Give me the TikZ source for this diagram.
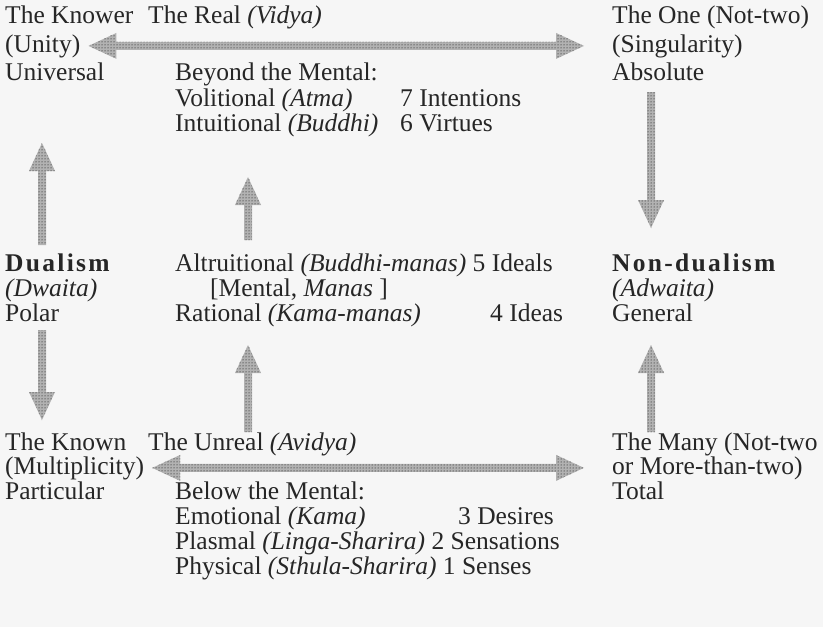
\documentclass[tikz,border=0pt]{standalone}
\usepackage{fontspec}
\setmainfont{Liberation Serif}
\newfontfamily\spacedbf[LetterSpace=9]{Liberation Serif Bold}
\usetikzlibrary{calc,patterns}

\newcommand{\arrhead}{28pt}
\newcommand{\arrwide}{13pt}
\newcommand{\arrshaft}{4pt}

% one-way stippled arrow, #1 tail, #2 tip
\newcommand{\stiparrow}[2]{%
  \coordinate (neck) at ($(#2)!\arrhead!(#1)$);
  \fill[stipple] ($(#1)!\arrshaft!90:(#2)$) -- ($(neck)!\arrshaft!90:(#2)$)
    -- ($(neck)!\arrwide!90:(#2)$) -- (#2) -- ($(neck)!\arrwide!-90:(#2)$)
    -- ($(neck)!\arrshaft!-90:(#2)$) -- ($(#1)!\arrshaft!-90:(#2)$) -- cycle;}
% two-way stippled arrow
\newcommand{\stipboth}[2]{%
  \coordinate (neckA) at ($(#1)!\arrhead!(#2)$);
  \coordinate (neckB) at ($(#2)!\arrhead!(#1)$);
  \fill[stipple] (#1) -- ($(neckA)!\arrwide!90:(#2)$) -- ($(neckA)!\arrshaft!90:(#2)$)
    -- ($(neckB)!\arrshaft!-90:(#1)$) -- ($(neckB)!\arrwide!-90:(#1)$) -- (#2)
    -- ($(neckB)!\arrwide!90:(#1)$) -- ($(neckB)!\arrshaft!90:(#1)$)
    -- ($(neckA)!\arrshaft!-90:(#2)$) -- ($(neckA)!\arrwide!-90:(#2)$) -- cycle;}

\tikzset{
  txt/.style={anchor=base west, inner sep=0pt, text=black!85, font=\fontsize{25.5}{26}\selectfont},
  bold/.style={txt, font=\fontsize{25.5}{26}\selectfont\spacedbf},
  stipple/.style={pattern=dots, pattern color=black, preaction={fill=gray!60}}
}

\begin{document}
\begin{tikzpicture}[x=1pt,y=-1pt]
\fill[gray!7] (0,0) rectangle (823,627);
\useasboundingbox (0,0) rectangle (823,627);

% the real
\node[txt] (knower) at (5,23) {The Knower};
\node[txt] (real) at (148,23) {The Real \textit{(Vidya)}};
\node[txt] (one) at (612,23) {The One (Not-two)};
\node[txt] (unity) at (5,52) {(Unity)};
\node[txt] (singularity) at (612,52) {(Singularity)};
\node[txt] (universal) at (5,80) {Universal};
\node[txt] (beyond) at (175,80) {Beyond the Mental:};
\node[txt] (absolute) at (612,80) {Absolute};
\node[txt] (volitional) at (175,106) {Volitional \textit{(Atma)}};
\node[txt] (intentions) at (400,106) {7 Intentions};
\node[txt] (intuitional) at (175,131) {Intuitional \textit{(Buddhi)}};
\node[txt] (virtues) at (400,131) {6 Virtues};

% the middle
\node[bold] (dualism) at (5,271) {Dualism};
\node[txt] (altruitional) at (175,271) {Altruitional \textit{(Buddhi-manas)} 5 Ideals};
\node[bold] (nondualism) at (612,271) {Non-dualism};
\node[txt] (dwaita) at (5,296) {\textit{(Dwaita)}};
\node[txt] (mental) at (210,296) {[Mental, \textit{Manas} ]};
\node[txt] (adwaita) at (612,296) {\textit{(Adwaita)}};
\node[txt] (polar) at (5,321) {Polar};
\node[txt] (rational) at (175,321) {Rational \textit{(Kama-manas)}};
\node[txt] (ideas) at (490,321) {4 Ideas};
\node[txt] (general) at (612,321) {General};

% the unreal
\node[txt] (known) at (5,450) {The Known};
\node[txt] (unreal) at (148,450) {The Unreal \textit{(Avidya)}};
\node[txt] (many) at (612,450) {The Many (Not-two};
\node[txt] (multiplicity) at (5,474) {(Multiplicity)};
\node[txt] (morethan) at (612,474) {or More-than-two)};
\node[txt] (particular) at (5,499) {Particular};
\node[txt] (below) at (175,499) {Below the Mental:};
\node[txt] (total) at (612,499) {Total};
\node[txt] (emotional) at (175,524) {Emotional \textit{(Kama)}};
\node[txt] (desires) at (458,524) {3 Desires};
\node[txt] (plasmal) at (175,549) {Plasmal \textit{(Linga-Sharira)} 2 Sensations};
\node[txt] (physical) at (175,574) {Physical \textit{(Sthula-Sharira)} 1 Senses};

% arrows
\coordinate (topL) at ($(unity.east)+(8,0)$);
\coordinate (topR) at ($(singularity.west)+(-28,0)$);
\coordinate (botL) at ($(multiplicity.east)+(8,0)$);
\coordinate (botR) at ($(morethan.west)+(-28,0)$);
\stipboth{topL}{topR}
\stipboth{botL}{botR}

\coordinate (leftUpTail) at (42,245);   \coordinate (leftUpTip) at (42,143);
\coordinate (leftDnTail) at (42,330);   \coordinate (leftDnTip) at (42,420);
\coordinate (midUpTail) at (248,240);   \coordinate (midUpTip) at (248,177);
\coordinate (midLoTail) at (248,432);   \coordinate (midLoTip) at (248,345);
\coordinate (rightDnTail) at (651,92);  \coordinate (rightDnTip) at (651,228);
\coordinate (rightUpTail) at (651,432); \coordinate (rightUpTip) at (651,345);
\stiparrow{leftUpTail}{leftUpTip}
\stiparrow{leftDnTail}{leftDnTip}
\stiparrow{midUpTail}{midUpTip}
\stiparrow{midLoTail}{midLoTip}
\stiparrow{rightDnTail}{rightDnTip}
\stiparrow{rightUpTail}{rightUpTip}

\end{tikzpicture}
\end{document}
